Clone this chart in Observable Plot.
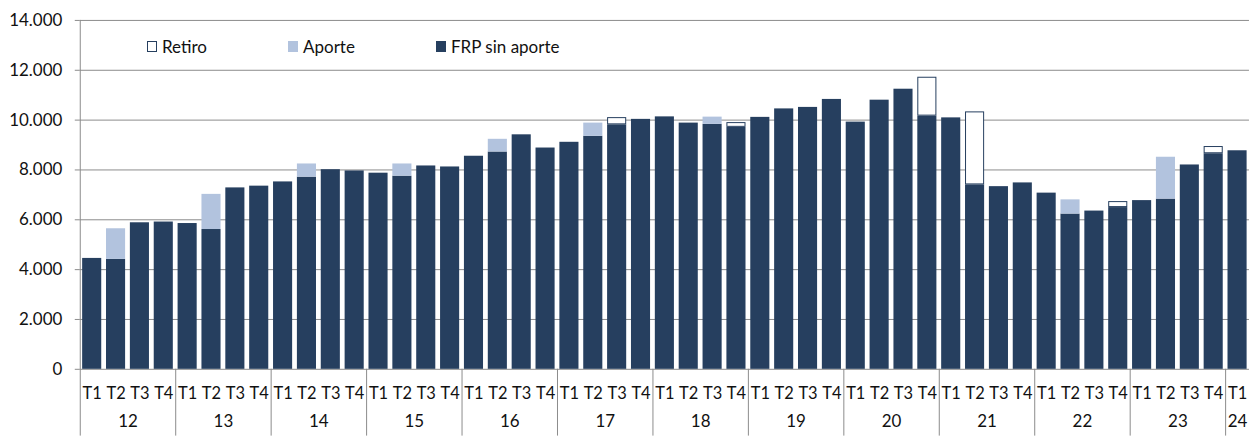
<!DOCTYPE html>
<html><head><meta charset="utf-8">
<script src="https://cdn.jsdelivr.net/npm/d3@7"></script>
<script src="https://cdn.jsdelivr.net/npm/@observablehq/plot@0.6"></script>
<style>
html,body{margin:0;padding:0;background:#fff;overflow:hidden;}
#wrap{position:relative;width:1249px;height:437px;overflow:hidden;font-family:Lato,sans-serif;}
#wrap svg{position:absolute;left:0;top:0;}
.item{position:absolute;top:37px;display:flex;align-items:center;font-size:17px;color:#111;line-height:19px;}
.sw{width:10px;height:11px;box-sizing:border-box;margin-right:5px;}
</style></head>
<body><div id="wrap"></div>
<script>
// ---- data ----
const years = ["12","13","14","15","16","17","18","19","20","21","22","23","24"];
const quarters = ["T1","T2","T3","T4"];
const frp = [4450, 4410, 5880, 5910, 5850, 5610, 7280, 7350, 7520, 7710, 8010, 7960,
  7870, 7750, 8160, 8120, 8550, 8720, 9410, 8880, 9110, 9350, 9810, 10030,
  10130, 9880, 9830, 9710, 10110, 10450, 10510, 10830, 9920, 10800, 11240, 10160,
  10090, 7400, 7330, 7480, 7070, 6230, 6350, 6490, 6770, 6830, 8200, 8650, 8770];
const aporte = [0, 1230, 0, 0, 0, 1410, 0, 0, 0, 530, 0, 0,
  0, 490, 0, 0, 0, 510, 0, 0, 0, 530, 0, 0,
  0, 0, 290, 0, 0, 0, 0, 0, 0, 0, 0, 0,
  0, 0, 0, 0, 0, 570, 0, 0, 0, 1680, 0, 0, 0];
const retiro = [0, 0, 0, 0, 0, 0, 0, 0, 0, 0, 0, 0,
  0, 0, 0, 0, 0, 0, 0, 0, 0, 0, 290, 0,
  0, 0, 0, 190, 0, 0, 0, 0, 0, 0, 0, 1560,
  0, 2930, 0, 0, 0, 0, 0, 240, 0, 0, 0, 290, 0];
const yTicks = [0, 2000, 4000, 6000, 8000, 10000, 12000, 14000];
const seriesNames = ["Retiro", "Aporte", "FRP sin aporte"];
const colors = {"Retiro": "#ffffff", "Aporte": "#b2c3de", "FRP sin aporte": "#263f5f"};

// ---- layout ----
const W = 1253, H = 437, ML = 80, MR = 0, MT = 20, MB = 67;
const n = frp.length;
const step = (W - ML - MR) / n;
const allKeys = [];
years.forEach(y => quarters.forEach(q => allKeys.push(y + "-" + q)));
const keys = allKeys.slice(0, n);
const rows = keys.map((k, i) => ({key: k, frp: frp[i], aporte: aporte[i], retiro: retiro[i]}));
const yearInfo = years.map(y => {
  const ks = keys.filter(k => k.startsWith(y + "-"));
  return {year: y, first: ks[0], count: ks.length};
});
const grid = "#8c8c8c";
const navy = colors["FRP sin aporte"];
const txt = "#111";
const fmt = d3.formatLocale({thousands: ".", decimal: ",", grouping: [3]}).format(",");

const marks = [
  Plot.ruleY(yTicks, {stroke: grid, strokeWidth: 1}),
  Plot.barY(rows, {x: "key", y1: 0, y2: "frp", fill: navy}),
  Plot.barY(rows.filter(d => d.aporte > 0), {x: "key", y1: "frp", y2: d => d.frp + d.aporte, fill: colors["Aporte"]}),
  Plot.barY(rows.filter(d => d.retiro > 0), {x: "key", y1: d => d.frp + d.aporte, y2: d => d.frp + d.aporte + d.retiro, fill: colors["Retiro"], stroke: navy, strokeWidth: 1, inset: 0.5}),
  Plot.axisY({ticks: yTicks, tickSize: 5, tickPadding: 13, tickFormat: fmt, label: null, stroke: grid, fill: txt, fontSize: 17}),
  Plot.axisX({tickFormat: d => d.split("-")[1], tickSize: 0, tickPadding: 18, label: null, fill: txt, fontSize: 16.5}),
  Plot.ruleX([keys[0]], {x: d => d, dx: -step / 2, y1: 14000, y2: 0, insetBottom: -MB, stroke: grid}),
  Plot.ruleX(yearInfo.slice(1), {x: "first", dx: -step / 2, y1: 0, y2: 0, insetBottom: -MB, stroke: grid})
];
yearInfo.forEach(d => {
  marks.push(Plot.text([d], {x: "first", text: "year", frameAnchor: "bottom", dy: 57.5, dx: (d.count - 1) / 2 * step, fill: txt, fontSize: 17}));
});

const chart = Plot.plot({
  width: W, height: H,
  marginLeft: ML, marginRight: MR, marginTop: MT, marginBottom: MB,
  style: {fontFamily: "Lato, sans-serif", fontSize: "17px", background: "#fff", color: txt},
  x: {type: "band", domain: keys, paddingInner: 0.2, paddingOuter: 0.1, align: 0.5},
  y: {domain: [0, 14000]},
  marks
});
const wrap = document.getElementById("wrap");
wrap.appendChild(chart);

// legend (overlay inside plot area)
const legendX = {"Retiro": 147, "Aporte": 288, "FRP sin aporte": 436};
seriesNames.forEach(s => {
  const it = document.createElement("div");
  it.className = "item";
  it.style.left = legendX[s] + "px";
  const sw = document.createElement("span");
  sw.className = "sw";
  sw.style.background = colors[s];
  if (s === "Retiro") sw.style.border = "1px solid " + navy;
  it.appendChild(sw);
  const t = document.createElement("span");
  t.textContent = s;
  it.appendChild(t);
  wrap.appendChild(it);
});
</script>
</body></html>
